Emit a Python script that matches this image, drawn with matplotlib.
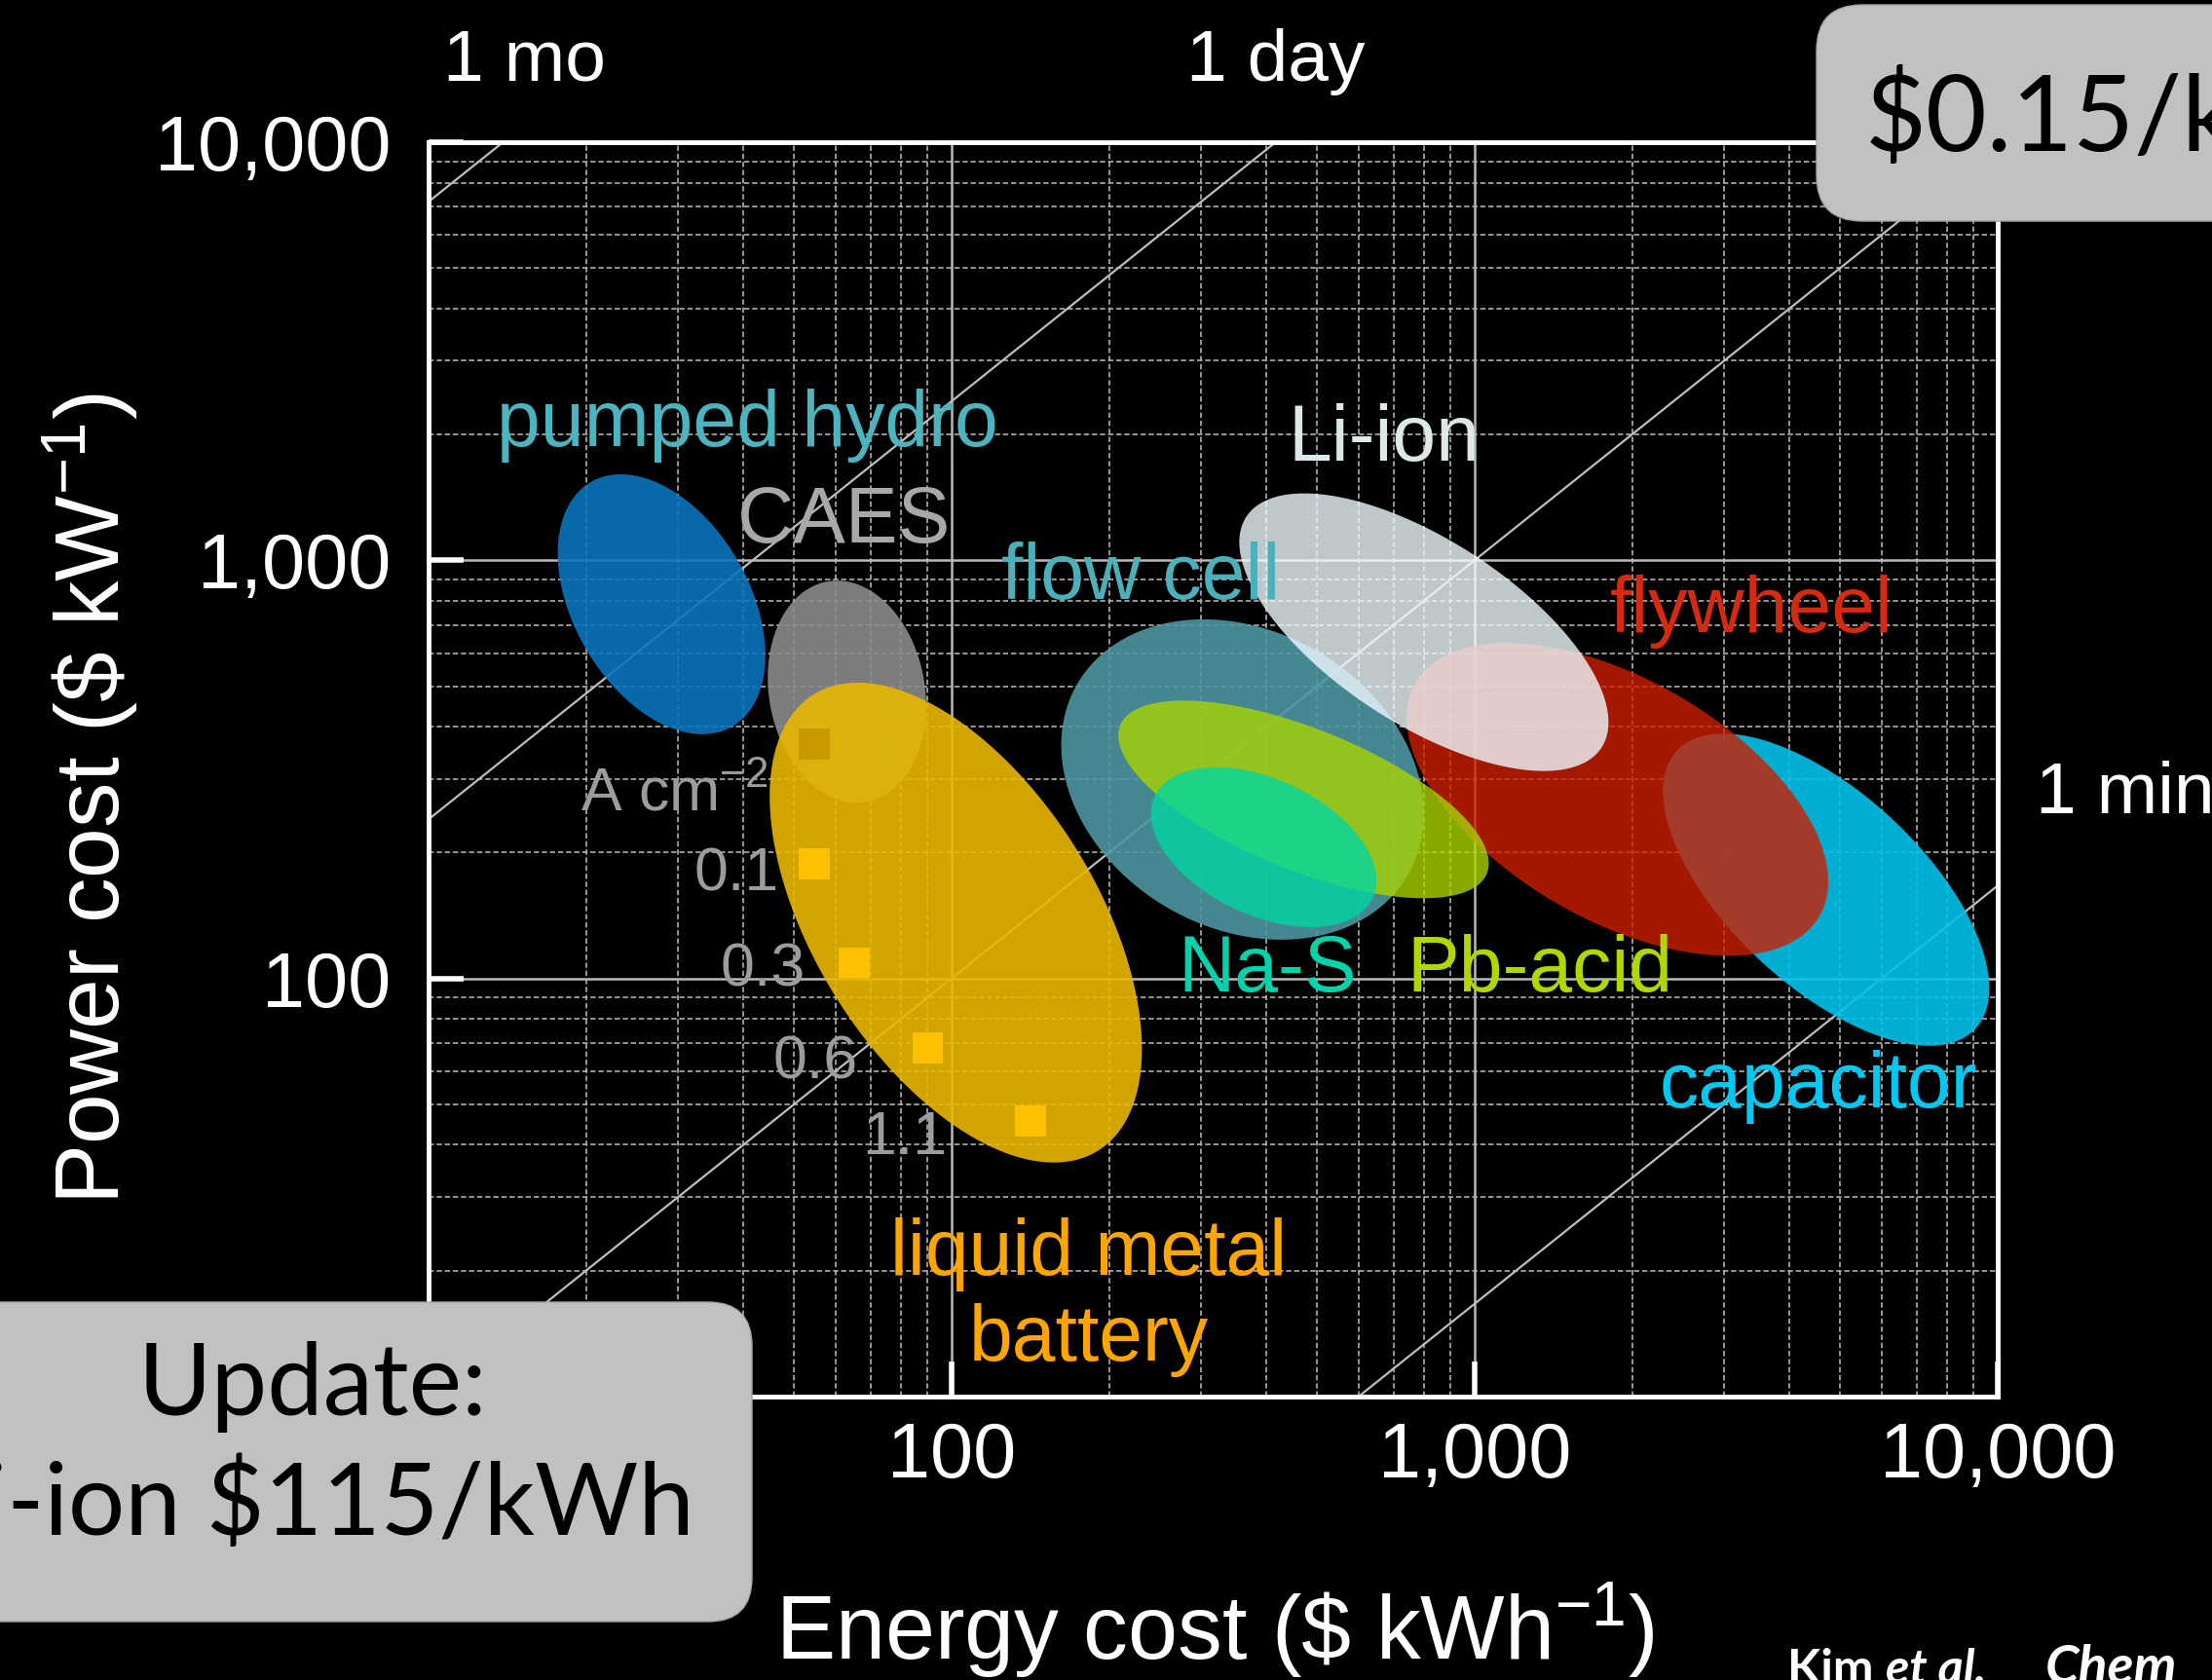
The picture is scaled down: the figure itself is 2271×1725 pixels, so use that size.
import numpy as np
import matplotlib
matplotlib.use("Agg")
import matplotlib.pyplot as plt
import matplotlib.transforms as mtransforms
from matplotlib import font_manager
from matplotlib.patches import FancyBboxPatch
from matplotlib.ticker import FixedLocator, FuncFormatter, LogLocator, NullFormatter

# ======= fonts =======
names = {f.name for f in font_manager.fontManager.ttflist}
NARROW = "Liberation Sans Narrow" if "Liberation Sans Narrow" in names else "Liberation Sans"
SANS = "Liberation Sans"
BOXFONT = "Lato" if "Lato" in names else "DejaVu Sans"
plt.rcParams["mathtext.fontset"] = "custom"
plt.rcParams["mathtext.rm"] = NARROW
plt.rcParams["mathtext.it"] = NARROW + ":italic"
plt.rcParams["mathtext.bf"] = NARROW + ":bold"

# ======= data =======
# technology regions: centre in ($/kWh, $/kW), semi-axes in decades, tilt in degrees
techs = ["pumped hydro", "CAES", "liquid metal", "flow cell", "capacitor",
         "flywheel", "Pb-acid", "Na-S", "Li-ion"]
energy_cost = [27.9, 63.1, 101.9, 360, 4700, 1875, 471, 395, 800]
power_cost = [785, 485, 136, 299, 163, 268, 268, 206, 673]
semi_major = [0.27, 0.214, 0.514, 0.365, 0.39, 0.446, 0.378, 0.23, 0.405]
semi_minor = [0.168, 0.149, 0.27, 0.284, 0.185, 0.23, 0.135, 0.13, 0.176]
tilt_deg = [-60, -80, -58, -30, -43, -30, -22, -25, -33]
fill_colors = ["#0b75bb", "#8b8b8b", "#e9b700", "#4e96a1", "#00c2e9",
               "#ce1f00", "#aad302", "#00d6a1", "#f0faff"]
fill_alpha = [0.9, 0.9, 0.9, 0.9, 0.9, 0.8, 0.8, 0.8, 0.8]

label_text = ["pumped hydro", "CAES", "flow cell", "Li-ion", "flywheel",
              "Na-S", "Pb-acid", "capacitor", "liquid metal\nbattery"]
label_E = [40.8, 62.3, 230, 671, 3388, 401, 1330, 4539, 183]
label_P = [2094, 1233, 904, 1936, 755, 104, 104, 55, 17.3]
label_colors = ["#4bb4be", "#a8a8a8", "#4bb0ba", "#dde8e8", "#d42a10",
                "#00d2aa", "#b0d800", "#00c8f0", "#ffa500"]

# liquid metal battery operating points (current density, A cm^-2)
sq_E = [54.7, 54.7, 65.1, 90, 141.6]
sq_P = [364, 188, 109, 68.3, 45.6]
sq_colors = ["#c99a00", "#ffc000", "#ffc000", "#ffc000", "#ffc000"]
sq_text = ["A cm$^{-2}$", "0.1", "0.3", "0.6", "1.1"]
sq_text_E = [29.5, 38.8, 43.5, 55, 81.5]
sq_text_P = [275, 177, 105, 63, 41.5]

# discharge duration lines: power cost = energy cost * hours
dur_hours = [720, 24, 1, 1 / 60]
dur_names = ["1 mo", "1 day", "", "1 min"]   # 1 h label sits under the call-out box

ticks = [10, 100, 1000, 10000]
tick_labels = ["", "100", "1,000", "10,000"]   # the "10" labels are hidden by the box

# ======= figure =======
W, H = 2271, 1725
fig = plt.figure(figsize=(W / 100, H / 100), dpi=100, facecolor="black")
ax = fig.add_axes([0.1937, 0.1687, 0.7094, 0.7467], facecolor="black")
ax.set_xscale("log")
ax.set_yscale("log")
ax.set_xlim(10, 10000)
ax.set_ylim(10, 10000)

# x decade vs y decade on screen, used to draw true ellipses in log space
pos = ax.get_position()
k = (pos.width * W) / (pos.height * H)

for spine in ax.spines.values():
    spine.set_color("white")
    spine.set_linewidth(3.5)
    spine.set_zorder(10)

for axis in (ax.xaxis, ax.yaxis):
    axis.set_major_locator(FixedLocator(ticks))
    axis.set_minor_locator(LogLocator(base=10, subs=np.arange(2, 10)))
    axis.set_major_formatter(FuncFormatter(lambda v, p: tick_labels[p] if p is not None else ""))
    axis.set_minor_formatter(NullFormatter())
ax.tick_params(which="major", direction="in", length=26, width=4, color="white",
               labelcolor="white", labelsize=57)
ax.tick_params(axis="y", which="major", pad=28)
ax.tick_params(axis="x", which="major", pad=18)
ax.tick_params(which="minor", length=0)
for lab in ax.get_xticklabels() + ax.get_yticklabels():
    lab.set_fontfamily(NARROW)

ax.set_axisbelow(True)
ax.grid(which="minor", color="#b4b4b4", linestyle=(0, (3, 1.6)), linewidth=1.3, alpha=0.9)
ax.grid(which="major", color="#b9b9b9", linestyle="-", linewidth=1.8)

# duration lines
e_line = np.logspace(1, 4, 200)
for h in dur_hours:
    ax.plot(e_line, e_line * h, color="#bdbdbd", lw=1.6, zorder=1.5)

# top / right duration labels
top_tr = mtransforms.blended_transform_factory(ax.transData, ax.transAxes)
right_tr = mtransforms.blended_transform_factory(ax.transAxes, ax.transData)
for h, name in zip(dur_hours, dur_names):
    if not name:
        continue
    e_top = 10000 / h
    if e_top <= 10000:
        ax.text(e_top * (1.1 if h > 100 else 1.0), 1.049, name, transform=top_tr,
                ha="center", va="baseline", color="white", fontsize=54,
                family=SANS, clip_on=False)
    else:
        ax.text(1.024, 10000 * h * 1.49, name, transform=right_tr, ha="left",
                va="baseline", color="white", fontsize=54, family=SANS, clip_on=False)

# technology regions
t = np.linspace(0, 2 * np.pi, 300)
for i in range(len(techs)):
    th = np.deg2rad(tilt_deg[i])
    a, b = semi_major[i], semi_minor[i]
    u = a * np.cos(t) * np.cos(th) - b * np.sin(t) * np.sin(th)
    v = (a * np.cos(t) * np.sin(th) + b * np.sin(t) * np.cos(th)) * k
    ax.fill(energy_cost[i] * 10 ** u, power_cost[i] * 10 ** v,
            color=fill_colors[i], alpha=fill_alpha[i], lw=0, zorder=3 + i * 0.1)

# liquid metal operating points
ax.scatter(sq_E, sq_P, marker="s", s=520, c=sq_colors, lw=0, zorder=5)
for x, y, s in zip(sq_text_E, sq_text_P, sq_text):
    ax.text(x, y, s, color="#9c9c9c", fontsize=45, family=SANS,
            ha="center", va="center", zorder=6)

for x, y, s, c in zip(label_E, label_P, label_text, label_colors):
    ax.text(x, y, s, color=c, fontsize=58, family=SANS, ha="center",
            va="center", linespacing=1.2, zorder=7)

# axis labels
ax.set_xlabel("Energy cost (\\$ kWh$^{-1}$)", color="white", fontsize=66,
              family=NARROW, va="baseline", ha="center")
ax.xaxis.set_label_coords(0.501, -0.2096)
ax.set_ylabel("Power cost (\\$ kW$^{-1}$)", color="white", fontsize=67,
              family=NARROW, va="center", ha="center")
ax.yaxis.set_label_coords(-0.2154, 0.4767)

# grey call-out boxes
box1 = FancyBboxPatch((-0.6, 0.60), 8.32, 3.28, boxstyle="round,pad=0,rounding_size=0.45",
                      transform=fig.dpi_scale_trans, facecolor="#c1c1c1",
                      edgecolor="#a5a5a5", lw=1, zorder=5)
box2 = FancyBboxPatch((18.65, 14.98), 5.0, 2.22, boxstyle="round,pad=0,rounding_size=0.47",
                      transform=fig.dpi_scale_trans, facecolor="#c1c1c1",
                      edgecolor="#a5a5a5", lw=1, zorder=5)
fig.patches.extend([box1, box2])

fig.text(0.1413, 0.1577, "Update:", ha="center", va="baseline", color="black",
         fontsize=74, family=BOXFONT, zorder=6)
fig.text(0.1413, 0.0864, "Li-ion $115/kWh", ha="center", va="baseline", color="black",
         fontsize=74, family=BOXFONT, zorder=6)
fig.text(1915 / W, 1 - 155 / H, "$0.15/kWh", ha="left", va="baseline", color="black",
         fontsize=78, family=BOXFONT, zorder=6)

# citation, cut by the bottom edge
fig.text(1835 / W, -0.0023, "Kim", ha="left", va="baseline", color="white",
         fontsize=36, family=BOXFONT, fontweight="bold")
fig.text(1936 / W, -0.0023, "et al.", ha="left", va="baseline", color="white",
         fontsize=36, family=BOXFONT, fontweight="bold", style="italic")
fig.text(2100 / W, -0.0023, "Chem", ha="left", va="baseline", color="white",
         fontsize=40, family=BOXFONT, fontweight="bold", style="italic")

fig.savefig("out.png", dpi=100, facecolor="black")
